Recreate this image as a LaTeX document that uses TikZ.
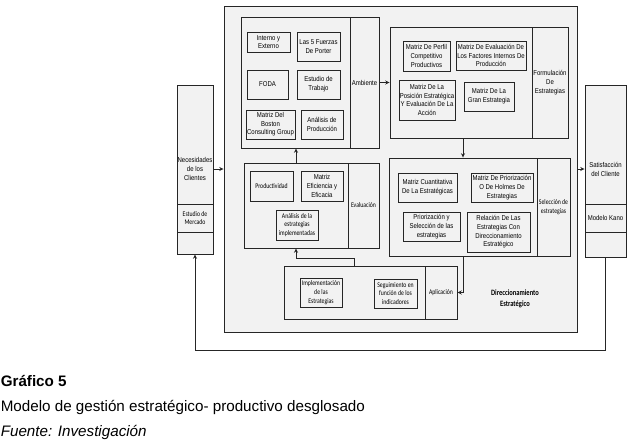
\documentclass[tikz,border=0pt]{standalone}
\usepackage{fontspec}
\setmainfont{Liberation Sans}
\newfontfamily\arlf[FakeStretch=0.85]{Liberation Sans}
\newfontfamily\calf[FakeStretch=0.8]{Carlito}
\usetikzlibrary{arrows.meta,fit}
\tikzset{
  bx/.style={draw=black!85, line width=0.7pt, fill=black!5, inner sep=0pt},
  lbl/.style={align=center, inner sep=0pt},
  artxt/.style={lbl, font=\arlf\fontsize{5.3}{6.5}\selectfont},
  catxt/.style={lbl, font=\calf\fontsize{5.4}{6.5}\selectfont},
  arr/.style={draw=black!85, line width=0.7pt, -{Stealth[length=3.2pt,width=3pt]}},
  captxt/.style={anchor=base west, inner sep=0pt, font=\fontsize{11.4}{13}\selectfont}
}
\begin{document}
\begin{tikzpicture}[x=0.75pt,y=-0.75pt]
\useasboundingbox (0,0) rectangle (635,447);

% outer box
\node[bx, fit={(224,6) (577,332)}] (dir) {};
\node[lbl, font=\calf\bfseries\fontsize{6.1}{8}\selectfont] (dirT) at (515,298.5) {Direccionamiento\\Estratégico};

% Ambiente group
\node[bx, fit={(241,17) (350,148)}] (ambI) {};
\node[bx, fit={(350,17) (379,148)}, label={[artxt]center:Ambiente}] (ambL) {};
\node[bx, fit={(247,32) (290,52)}, label={[artxt]center:{Interno y\\Externo}}] (ie) {};
\node[bx, fit={(297,32) (340,61)}, label={[artxt]center:{Las 5 Fuerzas\\De Porter}}] (porter) {};
\node[bx, fit={(247,70) (288,99)}, label={[artxt]center:FODA}] (foda) {};
\node[bx, fit={(297,70) (340,99)}, label={[artxt]center:{Estudio de\\Trabajo}}] (trab) {};
\node[bx, fit={(246,110) (295,139)}, label={[artxt]center:{Matriz Del\\Boston\\Consulting Group}}] (bcg) {};
\node[bx, fit={(301,110) (343,139)}, label={[artxt]center:{Análisis de\\Producción}}] (aprod) {};

% Formulacion group
\node[bx, fit={(390,27) (532,138)}] (formI) {};
\node[bx, fit={(532,27) (568,138)}, label={[artxt]center:{Formulación\\De\\Estrategias}}] (formL) {};
\node[bx, fit={(403,41) (450,71)}, label={[artxt]center:{Matriz De Perfil\\Competitivo\\Productivos}}] (mpc) {};
\node[bx, fit={(456,41) (526,70)}, label={[artxt]center:{Matriz De Evaluación De\\Los Factores Internos De\\Producción}}] (mefi) {};
\node[bx, fit={(399,80) (455,120)}, label={[artxt]center:{Matriz De La\\Posición Estratégica\\Y Evaluación De La\\Acción}}] (peyea) {};
\node[bx, fit={(464,82) (514,111)}, label={[artxt]center:{Matriz De La\\Gran Estrategia}}] (mge) {};

% Evaluacion group
\node[bx, fit={(244,163) (348,248)}] (evalI) {};
\node[bx, fit={(348,163) (379,248)}, label={[catxt]center:Evaluación}] (evalL) {};
\node[bx, fit={(250,171) (293,201)}, label={[catxt]center:Productividad}] (prodv) {};
\node[bx, fit={(301,171) (343,201)}, label={[artxt]center:{Matriz\\Eficiencia y\\Eficacia}}] (mee) {};
\node[bx, fit={(276,210) (318,240)}, label={[catxt]center:{Análisis de la\\estrategias\\implementadas}}] (aei) {};

% Seleccion group
\node[bx, fit={(389,158) (537,256)}] (selI) {};
\node[bx, fit={(537,158) (570,256)}, label={[catxt]center:{Selección de\\estrategias}}] (selL) {};
\node[bx, fit={(398,173) (457,202)}, label={[artxt]center:{Matriz Cuantitativa\\De La Estratégicas}}] (mcpe) {};
\node[bx, fit={(471,173) (533,202)}, label={[artxt]center:{Matriz De Priorización\\O De Holmes De\\Estrategias}}] (mph) {};
\node[bx, fit={(403,212) (460,241)}, label={[artxt]center:{Priorización y\\Selección de las\\estrategias}}] (pse) {};
\node[bx, fit={(467,212) (530,252)}, label={[artxt]center:{Relación De Las\\Estrategias Con\\Direccionamiento\\Estratégico}}] (rde) {};

% Aplicacion group
\node[bx, fit={(284,266) (425,319)}] (aplI) {};
\node[bx, fit={(425,266) (457,319)}, label={[catxt]center:Aplicación}] (aplL) {};
\node[bx, fit={(300,278) (342,307)}, label={[catxt]center:{Implementación\\de las\\Estrategias}}] (impl) {};
\node[bx, fit={(374,279) (417,308)}, label={[catxt]center:{Seguimiento en\\función de los\\indicadores}}] (seg) {};

% left box
\node[bx, fit={(177,85) (213,204)}] (necA) {};
\node[bx, fit={(177,204) (213,232)}, label={[catxt]center:{Estudio de\\Mercado}}] (necB) {};
\node[bx, fit={(177,232) (213,254)}] (necC) {};
\node[artxt] (necT) at (195,169) {Necesidades\\de los\\Clientes};

% right box
\node[bx, fit={(585,85) (626,204)}] (satA) {};
\node[bx, fit={(585,204) (626,232)}, label={[artxt]center:Modelo Kano}] (satB) {};
\node[bx, fit={(585,232) (626,257)}] (satC) {};
\node[artxt] (satT) at (605.5,169.5) {Satisfacción\\del Cliente};

% connectors
\coordinate (ya) at (0,169);
\draw[arr] (necA.east |- ya) -- (dir.west |- ya);
\draw[arr] (dir.east |- ya) -- (satA.west |- ya);
\draw[arr] (ambL.east) -- (formI.west);
\draw[arr] (evalI.north) -- (evalI.north |- ambI.south);
\draw[arr] (selI.north |- formI.south) -- (selI.north);
\draw[arr] (selI.south) |- (aplL.east);
\draw[arr] (aplI.north) -- ++(0,-7) -| (evalI.south);
\draw[arr] (satC.south) -- ++(0,93) -| (necC.south);

% captions
\node[captxt, font=\bfseries\fontsize{11.4}{13}\selectfont] (c1) at (0.5,386.7) {Gráfico 5};
\node[captxt] (c2) at (0.5,411.7) {Modelo de gestión estratégico- productivo desglosado};
\node[captxt, font=\itshape\fontsize{11.4}{13}\selectfont] (c3) at (0.5,436.7) {Fuente: Investigación};
\end{tikzpicture}
\end{document}
